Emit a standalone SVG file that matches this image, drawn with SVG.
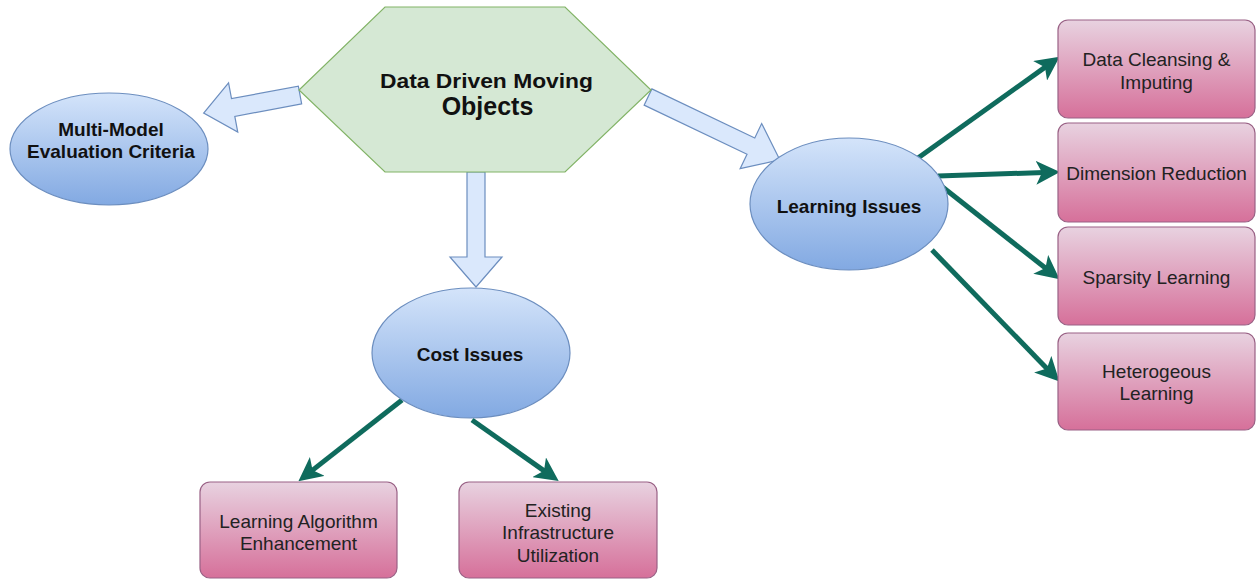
<svg xmlns="http://www.w3.org/2000/svg" width="1258" height="580" viewBox="0 0 1258 580">
<style>
.bg{fill:#ffffff}
.ell{fill:url(#blueG);stroke:#6c8ebf;stroke-width:1.2}
.box{fill:url(#pinkG);stroke:#996185;stroke-width:1.2}
.hex{fill:#d5e8d4;stroke:#82b366;stroke-width:1.2}
.blk{fill:#dae8fc;stroke:#6c8ebf;stroke-width:1.2}
.con{fill:none;stroke:#0f6b5d;stroke-width:5}
.tb{font-family:"Liberation Sans",Arial,sans-serif;font-weight:bold;font-size:19px;fill:#111;text-anchor:middle}
.tr{font-family:"Liberation Sans",Arial,sans-serif;font-size:19px;fill:#222;text-anchor:middle}
</style>
<defs>
<linearGradient id="blueG" x1="0" y1="0" x2="0" y2="1">
<stop offset="0" stop-color="#d4e4fa"/>
<stop offset="1" stop-color="#82a9e2"/>
</linearGradient>
<linearGradient id="pinkG" x1="0" y1="0" x2="0" y2="1">
<stop offset="0" stop-color="#e8d2e0"/>
<stop offset="1" stop-color="#d6709a"/>
</linearGradient>
<marker id="ah" viewBox="0 0 24 24" refX="8" refY="12" markerWidth="24" markerHeight="24" markerUnits="userSpaceOnUse" orient="auto">
<path d="M0,0 L24,12 L0,24 L6,12 z" fill="#0f6b5d"/>
</marker>
</defs>
<rect class="bg" x="0" y="0" width="1258" height="580"/>
<g id="connectors">
<polygon class="blk" transform="translate(300,95) rotate(169.4)" points="0,-9 68,-9 68,-25 98,0 68,25 68,9 0,9"/>
<polygon class="blk" transform="translate(476,172) rotate(90)" points="0,-9 85,-9 85,-26 115,0 85,26 85,9 0,9"/>
<polygon class="blk" transform="translate(648,97) rotate(25.5)" points="0,-9 114,-9 114,-25 146,0 114,25 114,9 0,9"/>
<line class="con" x1="402" y1="400" x2="311" y2="471.4" marker-end="url(#ah)"/>
<line class="con" x1="472" y1="420" x2="545.6" y2="471.9" marker-end="url(#ah)"/>
<line class="con" x1="918" y1="158" x2="1046.6" y2="66.1" marker-end="url(#ah)"/>
<line class="con" x1="938" y1="176" x2="1044" y2="172.5" marker-end="url(#ah)"/>
<line class="con" x1="940" y1="185" x2="1047" y2="269.3" marker-end="url(#ah)"/>
<line class="con" x1="932" y1="250" x2="1048.3" y2="370" marker-end="url(#ah)"/>
</g>
<g id="hub">
<polygon class="hex" points="385,7 565,7 651,90 565,172 385,172 299,90"/>
<text class="tb" x="486.5" y="88" style="font-size:21px" textLength="213" lengthAdjust="spacingAndGlyphs">Data Driven Moving</text>
<text class="tb" x="487.5" y="115" style="font-size:25px">Objects</text>
</g>
<g id="multimodel">
<ellipse class="ell" cx="109" cy="149" rx="99" ry="56"/>
<text class="tb" x="111" y="136">Multi-Model</text>
<text class="tb" x="111" y="158">Evaluation Criteria</text>
</g>
<g id="learning">
<ellipse class="ell" cx="849" cy="204" rx="99" ry="66"/>
<text class="tb" x="849" y="213">Learning Issues</text>
</g>
<g id="cost">
<ellipse class="ell" cx="471" cy="353" rx="99" ry="65"/>
<text class="tb" x="470" y="361">Cost Issues</text>
</g>
<g id="algo">
<rect class="box" x="200" y="482" width="197" height="96" rx="10"/>
<text class="tr" x="298.5" y="528">Learning Algorithm</text>
<text class="tr" x="298.5" y="550">Enhancement</text>
</g>
<g id="infra">
<rect class="box" x="459" y="482" width="198" height="96" rx="10"/>
<text class="tr" x="558" y="517">Existing</text>
<text class="tr" x="558" y="539">Infrastructure</text>
<text class="tr" x="558" y="562">Utilization</text>
</g>
<g id="cleansing">
<rect class="box" x="1058" y="20" width="197" height="98" rx="10"/>
<text class="tr" x="1156.5" y="66">Data Cleansing &amp;</text>
<text class="tr" x="1156.5" y="89">Imputing</text>
</g>
<g id="dimension">
<rect class="box" x="1058" y="123" width="197" height="99" rx="10"/>
<text class="tr" x="1156.5" y="180">Dimension Reduction</text>
</g>
<g id="sparsity">
<rect class="box" x="1058" y="227" width="197" height="98" rx="10"/>
<text class="tr" x="1156.5" y="284">Sparsity Learning</text>
</g>
<g id="hetero">
<rect class="box" x="1058" y="333" width="197" height="97" rx="10"/>
<text class="tr" x="1156.5" y="378">Heterogeous</text>
<text class="tr" x="1156.5" y="400">Learning</text>
</g>
</svg>
